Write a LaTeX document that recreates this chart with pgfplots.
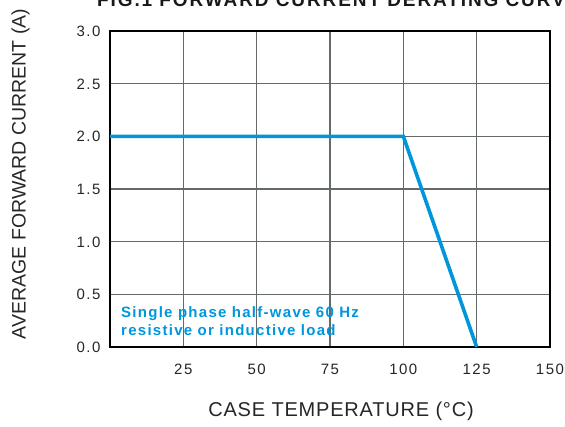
\documentclass[border=0pt]{standalone}
\usepackage{fontspec}
\setmainfont{Liberation Sans}
\usepackage{pgfplots}
\pgfplotsset{compat=1.18}
\definecolor{curveblue}{RGB}{0,150,219}
\definecolor{gridgray}{RGB}{100,106,106}
\newfontfamily\tickfont[LetterSpace=10]{Liberation Sans}
\newfontfamily\labfont[LetterSpace=4]{Liberation Sans}
\newfontfamily\notefont[LetterSpace=8.5,BoldFont={Liberation Sans Bold}]{Liberation Sans}
\newfontfamily\titlefont[LetterSpace=10]{Liberation Sans Bold}
\begin{document}
\begin{tikzpicture}[x=1pt,y=1pt]
\begin{axis}[
  at={(110pt,79pt)}, anchor=south west,
  scale only axis, width=440pt, height=316pt,
  xmin=0, xmax=150, ymin=0, ymax=3,
  xtick={25,50,75,100,125,150},
  ytick={0,0.5,1,1.5,2,2.5,3},
  grid=major,
  major grid style={gridgray, line width=1.1pt},
  axis line style={line width=2.8pt, black},
  tick style={draw=none},
  /pgf/number format/assume math mode=true,
  ticklabel style={font=\tickfont\fontsize{15}{18}\selectfont, text=black!85, text height=11pt, text depth=0pt},
  yticklabel style={/pgf/number format/.cd, fixed, fixed zerofill, precision=1},
  xticklabel style={/pgf/number format/.cd, fixed, precision=0},
  xticklabel shift=13pt,
  yticklabel shift=6pt,
  clip=false,
]
\addplot[curveblue, line width=3.6pt, line join=miter] coordinates {(0,2) (100,2) (125,0)};
\end{axis}
\node[anchor=base west, inner sep=0, text=curveblue, font=\notefont\bfseries\fontsize{15}{18}\selectfont] at (121pt,108pt) {Single phase half-wave 60 Hz};
\node[anchor=base west, inner sep=0, text=curveblue, font=\notefont\bfseries\fontsize{15}{18}\selectfont] at (121pt,91pt) {resistive or inductive load};
\node[inner sep=0, text=black!85, font=\labfont\fontsize{20}{24}\selectfont] at (341pt,15pt) {CASE TEMPERATURE (°C)};
\node[inner sep=0, rotate=90, text=black!85, font=\fontsize{19.5}{24}\selectfont] at (20.5pt,252pt) {AVERAGE FORWARD CURRENT (A)};
\node[anchor=base west, inner sep=0, text=black!90, font=\titlefont\fontsize{19}{22}\selectfont] at (97pt,419pt) {FIG.1 FORWARD CURRENT DERATING CURVE};
\pgfresetboundingbox
\path[use as bounding box] (0pt,0pt) rectangle (565pt,426pt);
\end{tikzpicture}
\end{document}
